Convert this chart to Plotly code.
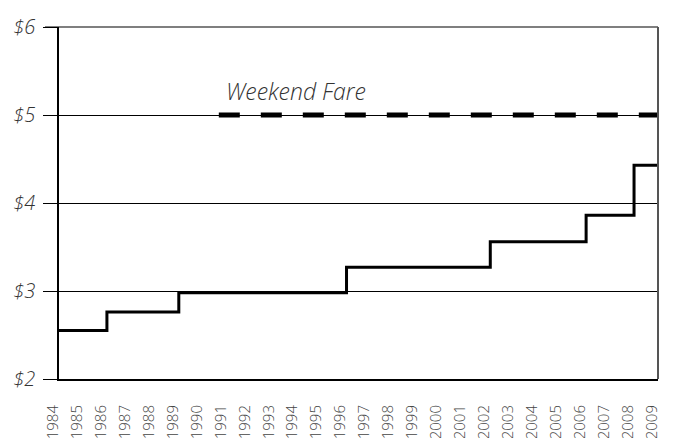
import plotly.graph_objects as go

# Data
step_years = [1984, 1986, 1989, 1996, 2002, 2006, 2008, 2009]
step_fares = [2.55, 2.76, 2.98, 3.27, 3.56, 3.86, 4.43, 4.43]

weekend_years = [1990.67, 2009]
weekend_fares = [5.0, 5.0]

year_ticks = list(range(1984, 2010))
fare_ticks = [2, 3, 4, 5, 6]
fare_labels = ["$2", "$3", "$4", "$5", "$6"]

FONT = "Open Sans"
# page has an 8px body margin, so the figure is drawn 8px smaller
W, H = 667, 430
ML, MR, MT, MB = 51, 17, 19, 59
PLOT_W = W - ML - MR

fig = go.Figure()
fig.add_trace(go.Scatter(
    x=weekend_years, y=weekend_fares, mode="lines",
    line=dict(color="black", width=5, dash="21px,21px"),
    hoverinfo="skip", showlegend=False,
))
fig.add_trace(go.Scatter(
    x=step_years, y=step_fares, mode="lines",
    line=dict(color="black", width=3, shape="hv"),
    showlegend=False,
))

fig.add_annotation(
    x=1990.88, y=5.27, xref="x", yref="y", text="Weekend Fare",
    showarrow=False, xanchor="left", yanchor="middle",
    font=dict(family=FONT, size=23, color="#333333", style="italic", weight=300),
)

# top frame line (extends left like a tick)
fig.add_shape(type="line", xref="paper", yref="paper", x0=-14 / PLOT_W, x1=1, y0=1, y1=1,
              line=dict(color="black", width=1.2))
# right frame line (gray)
fig.add_shape(type="line", xref="paper", yref="paper", x0=1, x1=1, y0=0, y1=1,
              line=dict(color="#555555", width=2))

fig.update_layout(
    width=W, height=H,
    margin=dict(l=ML, r=MR, t=MT, b=MB),
    paper_bgcolor="white", plot_bgcolor="white",
    font=dict(family=FONT),
    xaxis=dict(
        range=[1984, 2009], tickmode="array", tickvals=year_ticks,
        ticktext=[str(y) for y in year_ticks], tickangle=-90,
        showgrid=False, zeroline=False, ticks="",
        showline=True, linecolor="black", linewidth=2,
        tickfont=dict(family=FONT, size=15, color="#444444", weight=300),
        ticklabelshift=-6, ticklabelstandoff=18, automargin=False,
    ),
    yaxis=dict(
        range=[2, 6], tickmode="array", tickvals=fare_ticks, ticktext=fare_labels,
        showgrid=True, gridcolor="black", gridwidth=1, zeroline=False,
        ticks="outside", ticklen=14, tickcolor="black", tickwidth=1,
        showline=True, linecolor="black", linewidth=1.5,
        tickfont=dict(family=FONT, size=20, color="#333333", style="italic", weight=300),
        ticklabelstandoff=4, automargin=False,
    ),
)

fig.write_html("out.html")
